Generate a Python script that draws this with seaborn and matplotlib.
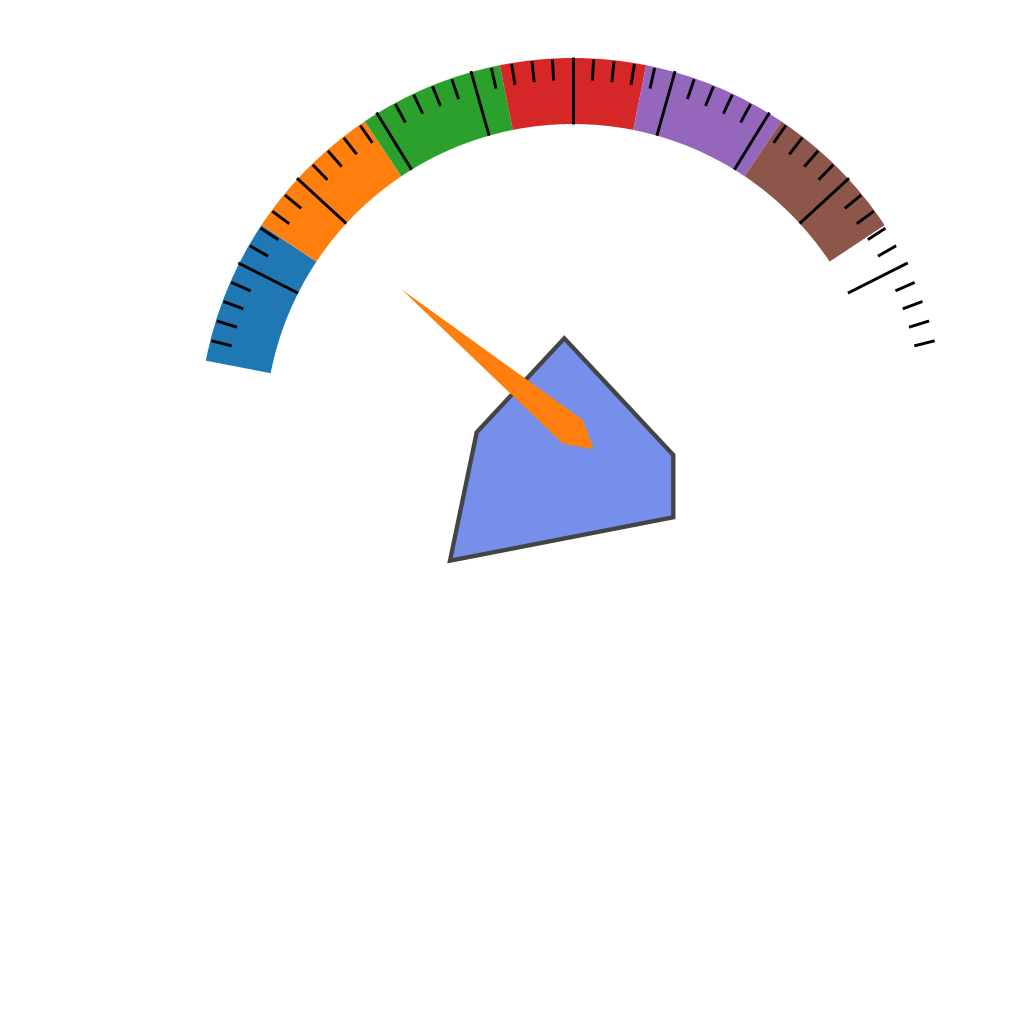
import numpy as np
import matplotlib
matplotlib.use("Agg")
import matplotlib.pyplot as plt
from matplotlib.patches import Wedge, Polygon
import seaborn as sns

# ---- data ----
band_edges = [0.0, 14.29, 28.57, 42.86, 57.14, 71.43, 85.71]   # gauge value units (0..100)
band_colors_name = "tab10"
major_ticks = [10, 20, 30, 40, 50, 60, 70, 80, 90]
minor_ticks = [v for v in range(2, 100, 2) if v % 10 != 0]
needle_value = 18.2
poly_x = [-8.7, 100.3, 100.3, -123.0, -96.3]
poly_y = [93.7, -23.0, -85.3, -128.7, -0.3]

# ---- scale ----
ang_start, ang_end = 169.0, 11.0
def v2a(v):
    return ang_start + (ang_end - ang_start) * v / 100.0

R_out, R_in = 374.0, 308.0
cx, cy = 573.0, 432.0

sns.set_theme(style="white")
colors = sns.color_palette(band_colors_name, 6)

fig = plt.figure(figsize=(10.24, 10.24), dpi=100)
ax = fig.add_axes([0, 0, 1, 1])
ax.set_xlim(-cx, 1024 - cx)
ax.set_ylim(-(1024 - cy), cy)
ax.set_aspect("equal")
ax.axis("off")

# bands
for i in range(len(band_edges) - 1):
    a1, a2 = v2a(band_edges[i + 1]), v2a(band_edges[i])
    ax.add_patch(Wedge((0, 0), R_out, a1, a2, width=R_out - R_in,
                       facecolor=colors[i], edgecolor="none", zorder=1))

# ticks
for v in major_ticks:
    t = np.deg2rad(v2a(v))
    ax.plot([R_in * np.cos(t), (R_out + 1) * np.cos(t)],
            [R_in * np.sin(t), (R_out + 1) * np.sin(t)],
            color="black", lw=2.1, solid_capstyle="butt", zorder=3)
for v in minor_ticks:
    t = np.deg2rad(v2a(v))
    ax.plot([352 * np.cos(t), 373 * np.cos(t)],
            [352 * np.sin(t), 373 * np.sin(t)],
            color="black", lw=2.1, solid_capstyle="butt", zorder=3)

# polygon
ax.add_patch(Polygon(np.column_stack([poly_x, poly_y]), closed=True,
                     facecolor="#758fea", edgecolor="#444444", lw=3.1,
                     joinstyle="miter", zorder=4))

# needle
t = np.deg2rad(v2a(needle_value))
u = np.array([np.cos(t), np.sin(t)])
p = np.array([-np.sin(t), np.cos(t)])
L, W, T = 223.0, 15.5, 27.0
pts = [L * u, W * p, -T * u, -W * p]
ax.add_patch(Polygon(pts, closed=True, facecolor="#ff7f0e",
                     edgecolor="none", zorder=5))

fig.savefig("out.png", dpi=100, facecolor="white")
